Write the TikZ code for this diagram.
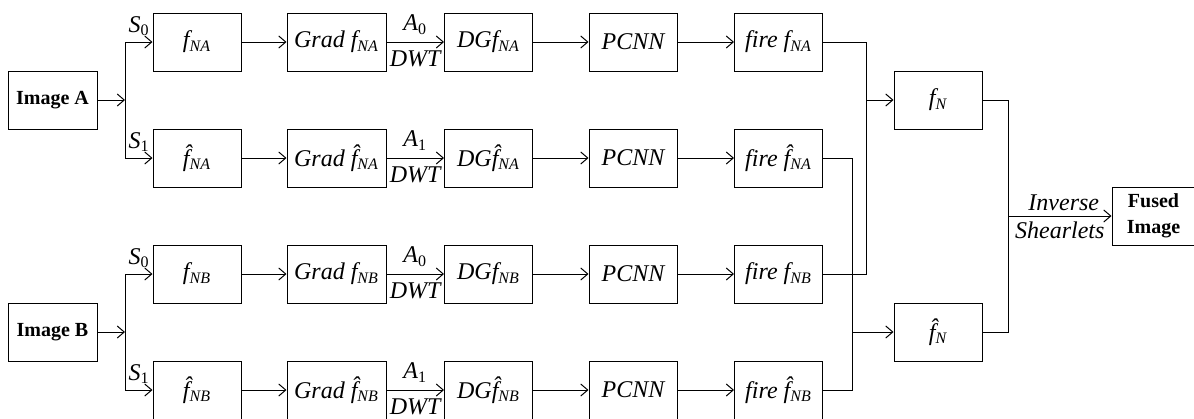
\documentclass[tikz,border=0pt]{standalone}
\usepackage{fontspec}
\setmainfont{Liberation Serif}
\usetikzlibrary{arrows.meta}
\newcommand{\fsub}[1]{\textit{f}\textsubscript{\textit{#1}}}
\newcommand{\fhat}[1]{\textit{\^{f}}\textsubscript{\textit{#1}}}
\newcommand{\idx}[2]{\textit{#1}\textsubscript{\upshape #2}}
\tikzset{
  box/.style={draw, line width=0.5pt, minimum width=44pt, minimum height=29pt, inner sep=0pt,
    font=\fontsize{12}{14}\selectfont\itshape},
  wbox/.style={box, minimum width=49.5pt},
  imgbox/.style={box, minimum width=44.5pt, font=\fontsize{10}{13}\selectfont\bfseries, align=center},
  lbl/.style={inner sep=1pt, font=\fontsize{12}{14}\selectfont\itshape},
  wire/.style={line width=0.5pt, -{Straight Barb[length=3.5pt,width=6pt]}}
}
\begin{document}
\begin{tikzpicture}[x=0.5pt,y=-0.5pt]
  \useasboundingbox (0,0) rectangle (1194,418);
  \draw
    (52.5,100) node[imgbox] (imgA){Image A}
    (52.5,332) node[imgbox] (imgB){Image B}
    (197,42) node[box] (fNA){\fsub{NA}}
    (197,158) node[box] (fhNA){\fhat{NA}}
    (197,274) node[box] (fNB){\fsub{NB}}
    (197,390) node[box] (fhNB){\fhat{NB}}
    (336.5,42) node[wbox] (gNA){Grad \fsub{NA}}
    (336.5,158) node[wbox] (ghNA){Grad \fhat{NA}}
    (336.5,274) node[wbox] (gNB){Grad \fsub{NB}}
    (336.5,390) node[wbox] (ghNB){Grad \fhat{NB}}
    (488.5,42) node[box] (dNA){DG\fsub{NA}}
    (488.5,158) node[box] (dhNA){DG\fhat{NA}}
    (488.5,274) node[box] (dNB){DG\fsub{NB}}
    (488.5,390) node[box] (dhNB){DG\fhat{NB}}
    (633,42) node[box] (pNA){PCNN}
    (633,158) node[box] (phNA){PCNN}
    (633,274) node[box] (pNB){PCNN}
    (633,390) node[box] (phNB){PCNN}
    (778.5,42) node[box] (rNA){fire \fsub{NA}}
    (778.5,158) node[box] (rhNA){fire \fhat{NA}}
    (778.5,274) node[box] (rNB){fire \fsub{NB}}
    (778.5,390) node[box] (rhNB){fire \fhat{NB}}
    (938,100) node[box] (fN){\fsub{N}}
    (938,332) node[box] (fhN){\fhat{N}}
    (1153.5,216) node[imgbox, minimum width=41.5pt] (fused){Fused\\Image};
  \coordinate (sA) at (125,100);
  \coordinate (sB) at (125,332);
  \coordinate (jN) at (866,100);
  \coordinate (jhN) at (852,332);
  \coordinate (jF) at (1008,216);
  \node[lbl] (s0A) at (139,26) {\idx{S}{0}};
  \node[lbl] (s1A) at (139,142) {\idx{S}{1}};
  \node[lbl] (s0B) at (139,258) {\idx{S}{0}};
  \node[lbl] (s1B) at (139,374) {\idx{S}{1}};
  \begin{scope}[wire]
    \draw (imgA) -- (sA);
    \draw (imgB) -- (sB);
    \draw (sA) |- (fNA.west);
    \draw (sA) |- (fhNA.west);
    \draw (sB) |- (fNB.west);
    \draw (sB) |- (fhNB.west);
    \draw (fNA) -- (gNA);
    \draw (fhNA) -- (ghNA);
    \draw (fNB) -- (gNB);
    \draw (fhNB) -- (ghNB);
    \draw (gNA) -- node[lbl, above=2.5pt] (a0A){\idx{A}{0}} node[lbl, below=3pt] (wA0){DWT} (dNA);
    \draw (ghNA) -- node[lbl, above=2.5pt] (a1A){\idx{A}{1}} node[lbl, below=3pt] (wA1){DWT} (dhNA);
    \draw (gNB) -- node[lbl, above=2.5pt] (a0B){\idx{A}{0}} node[lbl, below=3pt] (wB0){DWT} (dNB);
    \draw (ghNB) -- node[lbl, above=2.5pt] (a1B){\idx{A}{1}} node[lbl, below=3pt] (wB1){DWT} (dhNB);
    \draw (dNA) -- (pNA);
    \draw (dhNA) -- (phNA);
    \draw (dNB) -- (pNB);
    \draw (dhNB) -- (phNB);
    \draw (pNA) -- (rNA);
    \draw (phNA) -- (rhNA);
    \draw (pNB) -- (rNB);
    \draw (phNB) -- (rhNB);
    \draw (jN) -- (fN);
    \draw (jhN) -- (fhN);
    \draw (jF) -- node[lbl, above=1.5pt, xshift=2pt] (inv){Inverse} node[lbl, below=1.5pt] (shr){Shearlets} (fused);
  \end{scope}
  \begin{scope}[line width=0.5pt]
    \draw (rNA.east) -| (jN) |- (rNB.east);
    \draw (rhNA.east) -| (jhN) |- (rhNB.east);
    \draw (fN.east) -| (jF) |- (fhN.east);
  \end{scope}
\end{tikzpicture}
\end{document}
